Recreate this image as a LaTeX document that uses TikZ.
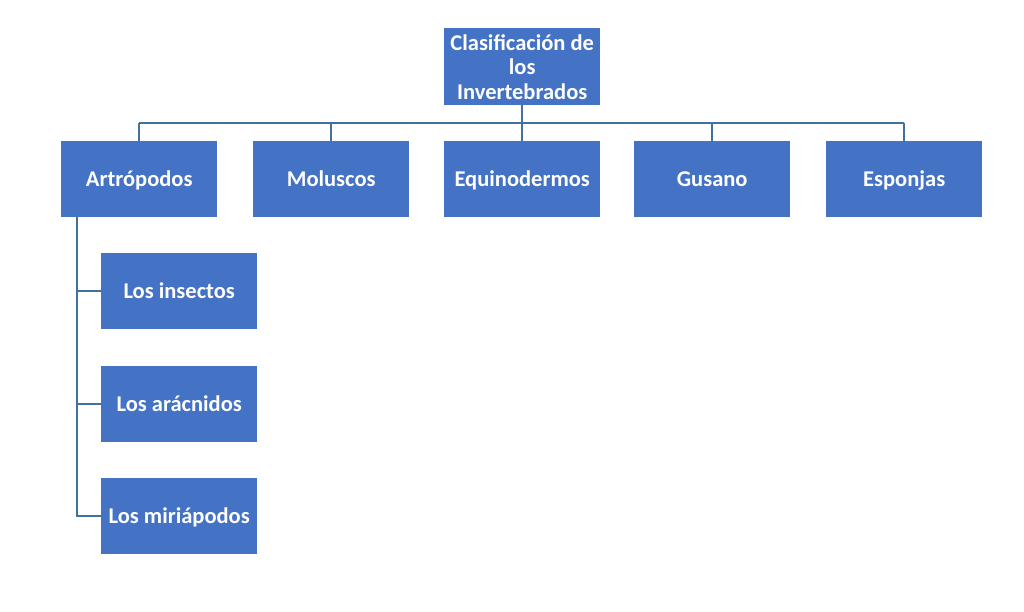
\documentclass[tikz,border=0pt]{standalone}
\usepackage{fontspec}
\setmainfont{Carlito}
\definecolor{boxblue}{HTML}{4472C4}
\definecolor{lineblue}{HTML}{41719C}
\begin{document}
\begin{tikzpicture}[x=1pt,y=-1pt,
  box/.style={fill=boxblue, draw=none, text=white, minimum width=156pt, minimum height=76pt,
    inner sep=0pt, align=center, font=\fontsize{22.5}{24.5}\selectfont\bfseries, anchor=north west},
  one/.style={box, text height=15.5pt, text depth=1pt},
  conn/.style={draw=lineblue, line width=1.6pt}]
\useasboundingbox (0,0) rectangle (1024,612);
\node[box, minimum height=77pt] (root) at (444,28) {Clasificación de\\los\\Invertebrados};
\node[one] (a) at (61,141) {Artrópodos};
\node[one] (m) at (253,141) {Moluscos};
\node[one] (e) at (444,141) {Equinodermos};
\node[one] (g) at (634,141) {Gusano};
\node[one] (s) at (826,141) {Esponjas};
\node[one] (c1) at (101,253) {Los insectos};
\node[one] (c2) at (101,366) {Los arácnidos};
\node[one] (c3) at (101,478) {Los miriápodos};
\coordinate (bus) at (0,123);
\draw[conn] (root.south) -- (root.south |- bus);
\draw[conn] (a.north |- bus) -- (s.north |- bus);
\foreach \n in {a,m,e,g,s} \draw[conn] (\n.north |- bus) -- (\n.north);
\coordinate (sp) at (77,0);
\draw[conn] (a.south -| sp) -- (c3.west -| sp) -- (c3.west);
\draw[conn] (c1.west -| sp) -- (c1.west);
\draw[conn] (c2.west -| sp) -- (c2.west);
\end{tikzpicture}
\end{document}
